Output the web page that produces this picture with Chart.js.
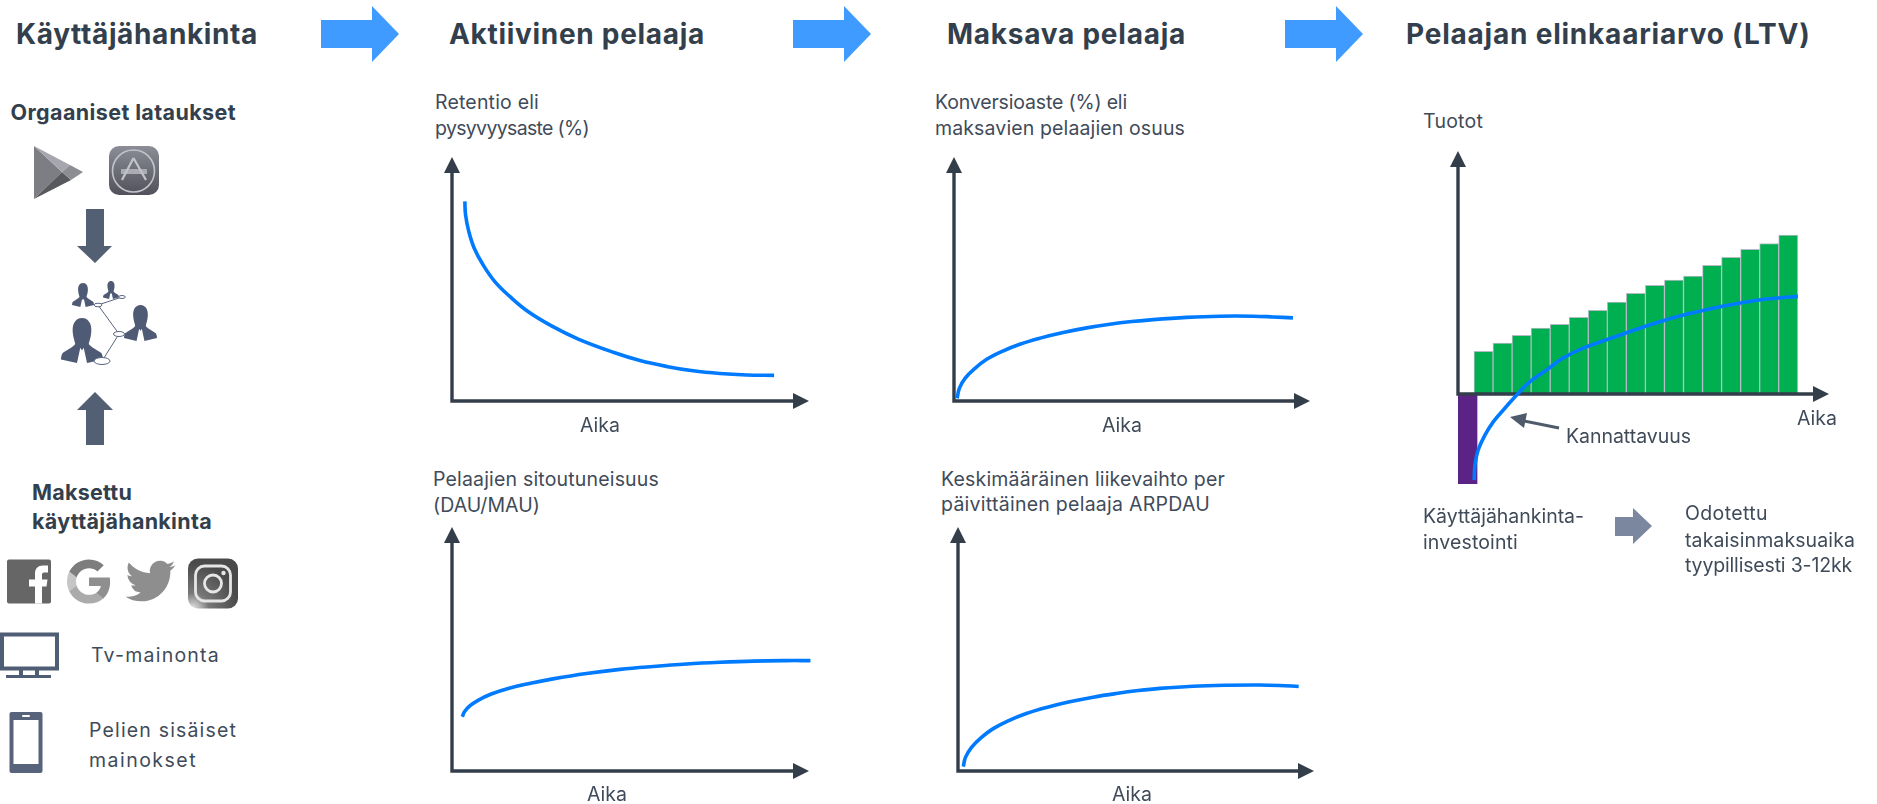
<!DOCTYPE html>
<html lang="fi">
<head>
<meta charset="utf-8">
<title>Pelaajan elinkaariarvo</title>
<script src="https://cdn.jsdelivr.net/npm/chart.js@4"></script>
<style>
  html, body { margin: 0; padding: 0; background: #fff; }
  #page { position: relative; width: 1877px; height: 804px; overflow: hidden; background: #fff; }
  #page canvas { position: absolute; }
  #art { position: absolute; left: 0; top: 0; }
  .txt { position: absolute; white-space: nowrap; font-family: Inter, "Open Sans", sans-serif; line-height: 1.2; }
  .h1 { font-size: 28px; font-weight: 700; color: #333f4c; }
  .h2 { font-size: 21.500px; font-weight: 700; color: #333f4c; }
  .body { font-size: 19.500px; font-weight: 400; color: #3f4b59; }
</style>
</head>
<body>
<div id="page">
<svg id="art" width="1877" height="804" viewBox="0 0 1877 804" xmlns="http://www.w3.org/2000/svg">
  <defs>
    <linearGradient id="appGrad" x1="0" y1="0" x2="0" y2="1">
      <stop offset="0" stop-color="#8b8d97"/><stop offset="1" stop-color="#50515a"/>
    </linearGradient>
    <radialGradient id="instaGrad" cx="0.1" cy="1" r="0.9">
      <stop offset="0" stop-color="#e4e4e4"/><stop offset="0.35" stop-color="#777"/><stop offset="1" stop-color="#4a4a4a"/>
    </radialGradient>
    <path id="person" d="M50 0C66 0 74 14 72 32C71 44 67 52 66 58C72 66 88 72 96 78C99 82 100 88 100 92L62 100L54 66L50 72L46 66L38 100L0 92C0 88 1 82 4 78C12 72 28 66 34 58C33 52 29 44 28 32C26 14 34 0 50 0Z"/>
  </defs>

  <!-- Funnel step arrows -->
  <g fill="#3f9bff">
    <polygon points="321,20 372,20 372,6 399,34 372,62 372,48 321,48"/>
    <polygon points="793,20 844,20 844,6 871,34 844,62 844,48 793,48"/>
    <polygon points="1285,20 1336,20 1336,6 1363,34 1336,62 1336,48 1285,48"/>
  </g>

  <!-- Store icons -->
  <polygon points="34,146 34,199 62,172" fill="#7c7e83"/>
  <polygon points="34,146 62,172 70,165" fill="#a6a7ae"/>
  <polygon points="34,199 62,172 71,180" fill="#57595d"/>
  <polygon points="70,165 83,172 71,180 62,172" fill="#8c8d92"/>
  <rect x="109" y="146" width="50" height="49" rx="10" fill="url(#appGrad)"/>
  <circle cx="133.500" cy="171" r="21" fill="none" stroke="#c3c4cb" stroke-width="1.600"/>
  <rect x="121" y="169" width="26" height="5" fill="#b5b6be" opacity="0.85"/>
  <g stroke="#c3c4cb" stroke-width="2.200" fill="none">
    <path d="M133.500 158L122 180M133.500 158L146 180"/>
  </g>

  <!-- Flow arrows around the player network -->
  <polygon points="86,209 104,209 104,246 112,246 95,263 77,246 86,246" fill="#535f72"/>
  <polygon points="95,392 113,410 104,410 104,445 86,445 86,410 77,410" fill="#535f72"/>

  <!-- Player network -->
  <g fill="#4f5a75">
    <use href="#person" transform="translate(61 318) scale(0.42 0.45)"/>
    <use href="#person" transform="translate(124 305) scale(0.33 0.36)"/>
    <use href="#person" transform="translate(72 283) scale(0.22 0.24)"/>
    <use href="#person" transform="translate(103 281) scale(0.16 0.18)"/>
  </g>
  <g fill="#fff" stroke="#5a6580" stroke-width="1">
    <path d="M98 305L119 334L102 361M98 305L122 297" fill="none"/>
    <ellipse cx="102" cy="361" rx="8" ry="3.500"/>
    <ellipse cx="119" cy="334" rx="5.500" ry="2.500"/>
    <ellipse cx="98" cy="305" rx="4" ry="1.800"/>
    <ellipse cx="122" cy="297" rx="3.300" ry="1.500"/>
  </g>

  <!-- Paid channels -->
  <rect x="7" y="559.500" width="44" height="44" rx="2" fill="#666"/>
  <path d="M35 603.500V586.500H29V579.500H35V573.500C35 568.500 38 565.500 43 565.500H48V572.500H44C42.500 572.500 42 573.500 42 575V579.500H47.500L46.500 586.500H42V603.500Z" fill="#fff"/>
  <g transform="translate(65 557.500)">
    <path fill="#8f8f8f" d="M45.120 24.500c0-1.560-.14-3.060-.4-4.500H24v8.510h11.840c-.51 2.750-2.060 5.080-4.390 6.640v5.520h7.110c4.160-3.830 6.560-9.470 6.560-16.170z"/>
    <path fill="#ababab" d="M24 46c5.940 0 10.920-1.970 14.560-5.330l-7.110-5.520c-1.970 1.320-4.490 2.100-7.450 2.100-5.730 0-10.580-3.870-12.310-9.070H4.340v5.700C7.960 41.070 15.400 46 24 46z"/>
    <path fill="#c6c6c6" d="M11.690 28.180C11.250 26.860 11 25.450 11 24s.25-2.860.69-4.180v-5.700H4.340C2.850 17.090 2 20.450 2 24c0 3.550.85 6.910 2.340 9.880l7.350-5.700z"/>
    <path fill="#7d7d7d" d="M24 10.750c3.230 0 6.130 1.110 8.410 3.290l6.310-6.310C34.910 4.180 29.930 2 24 2 15.400 2 7.960 6.930 4.340 14.120l7.350 5.700c1.730-5.200 6.580-9.070 12.310-9.070z"/>
  </g>
  <g transform="translate(125.500 556) scale(2.080)">
    <path fill="#8e8e8e" d="M23.953 4.570a10 10 0 01-2.825.775 4.958 4.958 0 002.163-2.723c-.951.555-2.005.959-3.127 1.184a4.920 4.920 0 00-8.384 4.482C7.690 8.095 4.067 6.130 1.640 3.162a4.822 4.822 0 00-.666 2.475c0 1.710.870 3.213 2.188 4.096a4.904 4.904 0 01-2.228-.616v.060a4.923 4.923 0 003.946 4.827 4.996 4.996 0 01-2.212.085 4.936 4.936 0 004.604 3.417 9.867 9.867 0 01-6.102 2.105c-.39 0-.779-.023-1.170-.067a13.995 13.995 0 007.557 2.209c9.053 0 13.998-7.496 13.998-13.985 0-.21 0-.42-.015-.63A9.935 9.935 0 0024 4.590z"/>
  </g>
  <rect x="188" y="558.500" width="50" height="50" rx="10" fill="url(#instaGrad)"/>
  <rect x="195.500" y="566" width="35" height="35" rx="9" fill="none" stroke="#e6e6e6" stroke-width="2.800"/>
  <circle cx="213" cy="583.500" r="8.500" fill="none" stroke="#e6e6e6" stroke-width="2.800"/>
  <circle cx="223.500" cy="573" r="2.200" fill="#e6e6e6"/>

  <!-- TV -->
  <rect x="2" y="634.500" width="55" height="34" fill="none" stroke="#4f5d75" stroke-width="4"/>
  <rect x="19" y="670" width="4" height="6" fill="#4f5d75"/>
  <rect x="35" y="670" width="4" height="6" fill="#4f5d75"/>
  <rect x="6" y="675" width="45" height="3" fill="#4f5d75"/>

  <!-- Phone -->
  <rect x="9.500" y="712" width="33" height="61" rx="2" fill="#56637a"/>
  <rect x="13.500" y="720" width="25" height="44" fill="#fff"/>
  <rect x="22" y="715" width="8" height="2" rx="1" fill="#fff"/>

  <!-- Break-even callout and payback arrow -->
  <line x1="1524" y1="421" x2="1559" y2="428" stroke="#4f5b6b" stroke-width="3"/>
  <polygon points="1510,417 1527,413 1524,428" fill="#4f5b6b"/>
  <polygon points="1615,517 1633,517 1633,508 1652,526 1633,544 1633,536 1615,536" fill="#7b879e"/>
</svg>

<canvas id="retentionChart"></canvas>
<canvas id="engagementChart"></canvas>
<canvas id="conversionChart"></canvas>
<canvas id="arpdauChart"></canvas>
<canvas id="ltvChart"></canvas>
</div>

<script>
// Curve samples on a 0-100 scale for each metric over time.
const retentionTime  = [3.6, 3.8, 4.7, 6.2, 8.7, 12.0, 16.2, 21.3, 27.9, 35.4, 45.2, 52.7, 60.1, 67.6, 75.1, 82.6, 90.3];
const retentionRate  = [81.9, 76.4, 69.6, 62.8, 55.9, 49.0, 42.9, 36.7, 30.8, 25.4, 20.0, 16.6, 14.2, 12.4, 11.3, 10.7, 10.5];

const engagementTime = [2.9, 3.5, 4.9, 7.3, 11.0, 16.0, 22.0, 28.3, 37.7, 47.1, 56.4, 65.8, 75.1, 84.5, 93.8, 100.5];
const engagementRate = [22.3, 24.3, 26.6, 29.0, 31.6, 34.0, 36.0, 37.8, 40.0, 41.7, 42.9, 43.9, 44.6, 45.1, 45.3, 45.3];

const conversionTime = [0.9, 1.5, 3.1, 5.9, 9.2, 13.4, 18.5, 24.2, 30.7, 37.3, 43.8, 50.0, 56.0, 65.4, 74.7, 84.1, 89.7, 95.3];
const conversionRate = [1.1, 5.2, 9.3, 13.4, 17.1, 20.3, 23.3, 25.8, 28.1, 30.0, 31.5, 32.6, 33.4, 34.3, 34.8, 34.8, 34.5, 34.1];

const arpdauTime     = [1.5, 2.1, 3.8, 6.6, 9.9, 14.1, 19.2, 24.9, 31.4, 38.0, 44.5, 50.7, 56.7, 66.1, 75.4, 84.8, 90.4, 95.8];
const arpdauValue    = [1.8, 5.6, 9.7, 13.8, 17.4, 20.6, 23.6, 26.1, 28.4, 30.3, 31.8, 33.0, 33.9, 34.8, 35.2, 35.3, 35.1, 34.7];

// Lifetime value: periodic revenue, the initial investment and cumulative profit.
const revenuePeriods = [1, 2, 3, 4, 5, 6, 7, 8, 9, 10, 11, 12, 13, 14, 15, 16, 17];
const revenueValues  = [17.6, 21.0, 24.1, 27.1, 28.7, 31.6, 34.5, 37.8, 41.5, 44.8, 46.9, 48.6, 53.0, 56.3, 59.6, 62.0, 65.5];
const investPeriod   = [0.16];
const investValue    = [-37.1];
const profitPeriods  = [0.51, 0.55, 0.72, 1.08, 1.51, 2.12, 2.74, 3.44, 4.31, 5.18, 6.23, 7.46, 8.51, 9.55, 10.60, 11.65, 12.70, 13.75, 14.80, 15.85, 17.51];
const profitValues   = [-35.5, -29.3, -23.1, -16.9, -11.5, -5.9, -0.4, 5.1, 9.9, 14.8, 18.9, 22.3, 25.2, 28.0, 30.6, 32.8, 34.7, 36.4, 37.9, 39.1, 40.2];

const AXIS_COLOR = '#333e4a';
const CURVE_COLOR = '#007bff';
const PAD = 22;

const pairs = (xs, ys) => xs.map((x, i) => ({ x, y: ys[i] }));

// Axis lines and arrowheads come from the scales, painted just under the curve.
const arrowAxes = {
  id: 'arrowAxes',
  beforeDatasetDraw(chart, args) {
    if (args.meta.type !== 'line') return;
    const { ctx, scales: { x, y } } = chart;
    const ox = x.getPixelForValue(x.min);
    const oy = y.getPixelForValue(0);
    const ex = x.getPixelForValue(x.max);
    const ey = y.getPixelForValue(y.max);
    ctx.save();
    ctx.strokeStyle = ctx.fillStyle = AXIS_COLOR;
    ctx.lineWidth = 3.4;
    ctx.lineCap = 'square';
    ctx.beginPath();
    ctx.moveTo(ex, oy); ctx.lineTo(ox, oy); ctx.lineTo(ox, ey);
    ctx.stroke();
    ctx.beginPath();
    ctx.moveTo(ex, oy - 8); ctx.lineTo(ex + 16, oy); ctx.lineTo(ex, oy + 8); ctx.closePath();
    ctx.moveTo(ox - 8, ey); ctx.lineTo(ox, ey - 16); ctx.lineTo(ox + 8, ey); ctx.closePath();
    ctx.fill();
    ctx.restore();
  }
};

function curveDataset(xs, ys) {
  return {
    type: 'line',
    data: pairs(xs, ys),
    borderColor: CURVE_COLOR,
    borderWidth: 3.6,
    pointRadius: 0,
    fill: false,
    tension: 0.4,
    capBezierPoints: false,
    clip: false,
    order: 0
  };
}

function place(id, left, top, right, bottom) {
  const el = document.getElementById(id);
  el.width = right - left + PAD * 2;
  el.height = bottom - top + PAD * 2;
  el.style.left = (left - PAD) + 'px';
  el.style.top = (top - PAD) + 'px';
  return el;
}

function makeChart(el, datasets, xRange, yRange) {
  return new Chart(el, {
    type: 'bar',
    data: { datasets },
    plugins: [arrowAxes],
    options: {
      responsive: false,
      animation: false,
      devicePixelRatio: 1,
      events: [],
      layout: { padding: PAD },
      plugins: { legend: { display: false }, tooltip: { enabled: false } },
      scales: {
        x: { type: 'linear', display: false, offset: false, min: xRange[0], max: xRange[1] },
        y: { type: 'linear', display: false, min: yRange[0], max: yRange[1] }
      }
    }
  });
}

const TIME_RANGE = [0, 95.6];
const VALUE_RANGE = [0, 93.56];

makeChart(place('retentionChart', 452, 173, 793, 401), [curveDataset(retentionTime, retentionRate)], TIME_RANGE, VALUE_RANGE);
makeChart(place('engagementChart', 452, 543, 793, 771), [curveDataset(engagementTime, engagementRate)], TIME_RANGE, VALUE_RANGE);
makeChart(place('conversionChart', 954, 173, 1294, 401), [curveDataset(conversionTime, conversionRate)], TIME_RANGE, VALUE_RANGE);
makeChart(place('arpdauChart', 958, 543, 1298, 771), [curveDataset(arpdauTime, arpdauValue)], TIME_RANGE, VALUE_RANGE);

makeChart(place('ltvChart', 1458, 167, 1813, 484), [
  curveDataset(profitPeriods, profitValues),
  {
    type: 'bar', data: pairs(revenuePeriods, revenueValues), grouped: false, order: 1,
    barThickness: 19.1, backgroundColor: '#00af50', borderColor: '#b5bbc6', borderWidth: 1
  },
  {
    type: 'bar', data: pairs(investPeriod, investValue), grouped: false, order: 1,
    barThickness: 19, backgroundColor: '#5b2385', borderWidth: 0
  }
], [-0.34, 18.3], [-37.1, 93.5]);

// Page text: [content, class, left, baseline, width]
const labels = [
  ['Käyttäjähankinta', 'h1', 16, 44, 242],
  ['Aktiivinen pelaaja', 'h1', 449, 44, 256],
  ['Maksava pelaaja', 'h1', 947, 44, 239],
  ['Pelaajan elinkaariarvo (LTV)', 'h1', 1406, 44, 404],
  ['Orgaaniset lataukset', 'h2', 10.5, 120, 225.5],
  ['Maksettu', 'h2', 32, 500, 100],
  ['käyttäjähankinta', 'h2', 32, 529, 180],
  ['Tv-mainonta', 'body', 91, 662, 129],
  ['Pelien sisäiset', 'body', 89, 737, 148],
  ['mainokset', 'body', 89, 767, 108],
  ['Retentio eli', 'body', 435, 109, 104],
  ['pysyvyysaste (%)', 'body', 435, 135, 154],
  ['Aika', 'body', 580, 432, 40],
  ['Pelaajien sitoutuneisuus', 'body', 433, 486, 226],
  ['(DAU/MAU)', 'body', 433, 512, 107],
  ['Aika', 'body', 587, 801, 40],
  ['Konversioaste (%) eli', 'body', 935, 109, 192],
  ['maksavien pelaajien osuus', 'body', 935, 135, 250],
  ['Aika', 'body', 1102, 432, 40],
  ['Keskimääräinen liikevaihto per', 'body', 941, 486, 284],
  ['päivittäinen pelaaja ARPDAU', 'body', 941, 511, 269],
  ['Aika', 'body', 1112, 801, 40],
  ['Tuotot', 'body', 1423, 128, 60],
  ['Aika', 'body', 1797, 425, 40],
  ['Kannattavuus', 'body', 1566, 443, 125],
  ['Käyttäjähankinta-', 'body', 1423, 523, 161],
  ['investointi', 'body', 1423, 549, 95],
  ['Odotettu', 'body', 1685, 520, 83],
  ['takaisinmaksuaika', 'body', 1685, 547, 170],
  ['tyypillisesti 3-12kk', 'body', 1685, 572, 167]
];

const page = document.getElementById('page');
labels.forEach(([content, cls, left, baseline, width]) => {
  const el = document.createElement('div');
  el.className = 'txt ' + cls;
  el.textContent = content;
  el.style.left = left + 'px';
  el.style.top = '0px';
  page.appendChild(el);
  // Fit the run to its column and sit it on the requested baseline.
  const extra = width - el.getBoundingClientRect().width;
  el.style.letterSpacing = (extra / content.length) + 'px';
  const mark = document.createElement('span');
  mark.style.cssText = 'display:inline-block;width:0;height:0';
  el.appendChild(mark);
  const y = mark.getBoundingClientRect().bottom - page.getBoundingClientRect().top;
  mark.remove();
  el.style.top = (baseline - y) + 'px';
});
</script>
</body>
</html>
